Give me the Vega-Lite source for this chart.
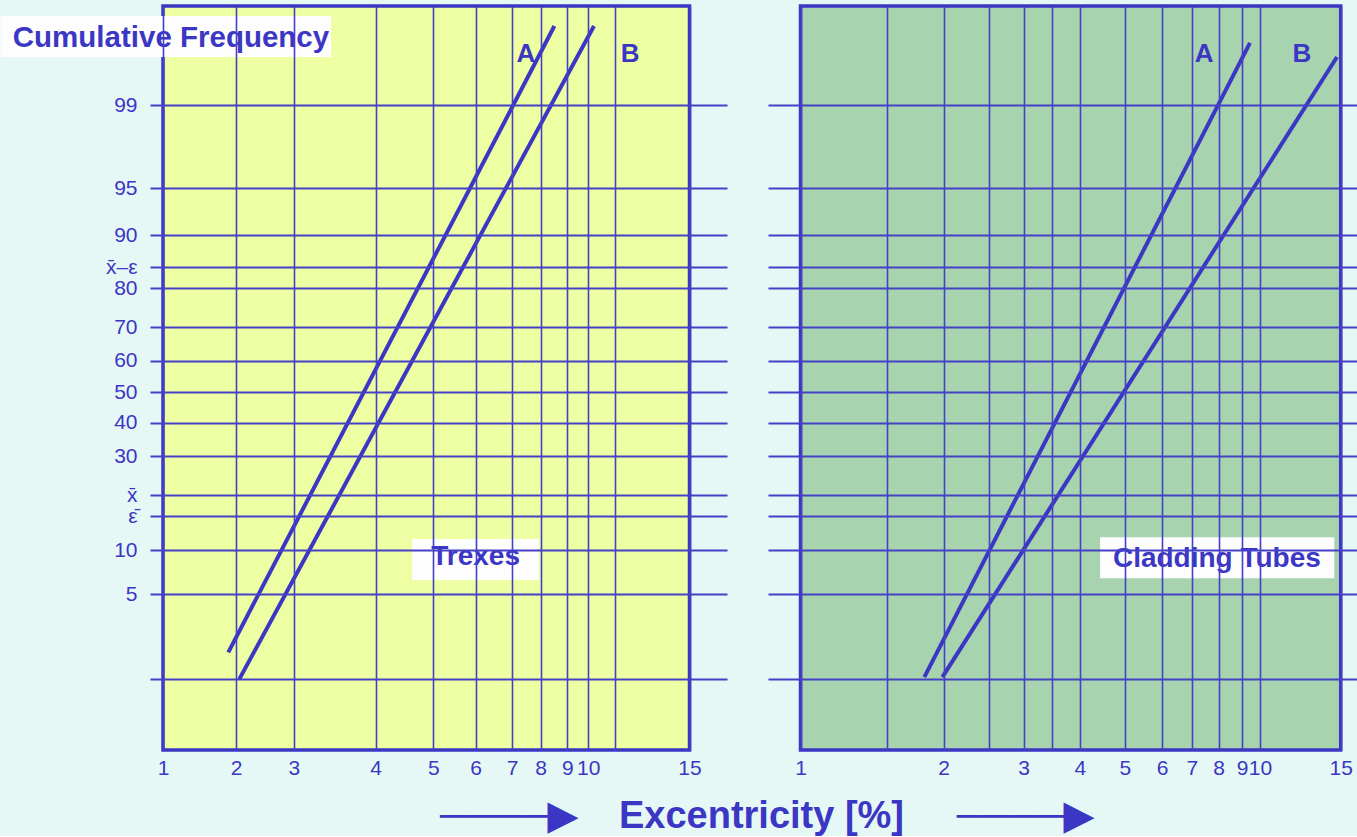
{
  "$schema": "https://vega.github.io/schema/vega-lite/v6.json",
  "background": "#e6f8f5",
  "padding": {"left": 0, "top": 4, "right": 0, "bottom": 0},
  "bounds": "flush",
  "spacing": 41,
  "config": {"view": {"stroke": null}, "font": "Liberation Sans"},
  "title": {
    "text": "\u2500\u2500\u2500\u2500\u25b6\u00a0\u00a0\u00a0\u00a0Excentricity [%]\u00a0\u00a0\u00a0\u00a0\u00a0\u2500\u2500\u2500\u2500\u25b6",
    "orient": "bottom",
    "anchor": "middle",
    "font": "Liberation Sans",
    "fontSize": 38,
    "fontWeight": "bold",
    "color": "#3b36c4",
    "dx": 88,
    "offset": 20
  },
  "datasets": {
    "frames": [
      {"panel": "Trexes", "from": 1, "to": 15},
      {"panel": "Cladding Tubes", "from": 1, "to": 15}
    ],
    "curves": [
      {"panel": "Trexes", "series": "A", "excentricity": 1.892, "cumfreq": 1.77},
      {"panel": "Trexes", "series": "A", "excentricity": 8.515, "cumfreq": 99.843},
      {"panel": "Trexes", "series": "B", "excentricity": 2.054, "cumfreq": 0.99},
      {"panel": "Trexes", "series": "B", "excentricity": 10.22, "cumfreq": 99.843},
      {"panel": "Cladding Tubes", "series": "A", "excentricity": 1.831, "cumfreq": 1.04},
      {"panel": "Cladding Tubes", "series": "A", "excentricity": 9.44, "cumfreq": 99.76},
      {"panel": "Cladding Tubes", "series": "B", "excentricity": 1.99, "cumfreq": 1.04},
      {"panel": "Cladding Tubes", "series": "B", "excentricity": 14.77, "cumfreq": 99.647}
    ],
    "notes": [
      {"panel": "Trexes", "kind": "series", "text": "A", "excentricity": 7.48, "cumfreq": 99.67},
      {"panel": "Trexes", "kind": "series", "text": "B", "excentricity": 11.83, "cumfreq": 99.67},
      {"panel": "Cladding Tubes", "kind": "series", "text": "A", "excentricity": 7.46, "cumfreq": 99.67},
      {"panel": "Cladding Tubes", "kind": "series", "text": "B", "excentricity": 12.6, "cumfreq": 99.67},
      {"panel": "Trexes", "kind": "name", "text": "Trexes", "excentricity": 6.0, "cumfreq": 9.2, "x_from": 4.63, "x_to": 7.94, "p_low": 6.59, "p_high": 11.9},
      {"panel": "Cladding Tubes", "kind": "name", "text": "Cladding Tubes", "excentricity": 7.94, "cumfreq": 9.0, "x_from": 4.45, "x_to": 14.6, "p_low": 6.78, "p_high": 12.19},
      {"panel": "Trexes", "kind": "axis", "text": "Cumulative Frequency", "excentricity": 1.109, "cumfreq": 99.8, "x_from": -1.22, "x_to": 3.454, "p_low": 99.647, "p_high": 99.879}
    ]
  },
  "hconcat": [
    {
      "width": 577,
      "height": 744,
      "layer": [
        {
          "data": {"name": "frames"},
          "transform": [{"filter": "datum.panel == 'Trexes'"}],
          "mark": {"type": "rect", "fill": "#eeffa3", "stroke": "#3b36c4", "strokeWidth": 3.5},
          "encoding": {
            "x": {
              "field": "from", "type": "quantitative",
              "scale": {"domain": [0.8224, 1, 2, 3, 4, 5, 6, 7, 8, 9, 10, 11, 15, 17], "range": [0, 13, 86.2, 143.9, 225.7, 283.4, 325.6, 362.2, 390.7, 417.3, 438.2, 464.5, 539.5, 577], "nice": false, "zero": false},
              "axis": {
                "values": [1, 2, 3, 4, 5, 6, 7, 8, 9, 10, 11, 15],
                "format": "d",
                "labelExpr": "datum.value == 11 ? '' : datum.label",
                "grid": true, "gridColor": "#4540c6", "gridWidth": 1.6,
                "domain": false, "ticks": false, "tickSize": 0,
                "labelPadding": 7, "labelFont": "Liberation Sans", "labelFontSize": 21, "labelColor": "#3b36c4",
                "labelFlush": false, "labelOverlap": false, "labelBound": false,
                "title": null, "zindex": 1,
                "encode": {"labels": {"update": {
                  "align": {"signal": "datum.value == 1 ? 'right' : datum.value == 15 ? 'left' : 'center'"},
                  "dx": {"signal": "datum.value == 3 ? -2 : datum.value == 4 ? -5 : datum.value == 5 ? -5 : datum.value == 6 ? -4 : datum.value == 10 ? 4 : 0"}
                }}}
              }
            },
            "x2": {"field": "to"}
          }
        },
        {
          "data": {"name": "curves"},
          "transform": [{"filter": "datum.panel == 'Trexes'"}],
          "mark": {"type": "line", "color": "#3b36c4", "strokeWidth": 4, "zindex": 2},
          "encoding": {
            "x": {"field": "excentricity", "type": "quantitative"},
            "y": {
              "field": "cumfreq", "type": "quantitative",
              "scale": {"domain": [0.18, 0.5, 1, 2, 3, 5, 10, 15.87, 20, 30, 40, 50, 60, 70, 80, 84.13, 90, 95, 97, 98, 99, 99.5, 99.8, 99.915], "range": [744, 702.8, 672.5, 638.6, 617.4, 588, 544, 510, 489, 450, 416.5, 386, 354.5, 321, 282, 261, 229, 182, 154.6, 133.4, 99, 69.2, 32, 0], "nice": false, "zero": false},
              "axis": {
                "values": [1, 5, 10, 15.87, 20, 30, 40, 50, 60, 70, 80, 84.13, 90, 95, 99],
                "format": "d",
                "labelExpr": "datum.value == 84.13 ? 'x\u0304\u2013\u03b5' : datum.value == 20 ? 'x\u0304' : datum.value == 15.87 ? '\u03b5\u0304' : datum.value == 1 ? '' : datum.label",
                "grid": true, "gridColor": "#4540c6", "gridWidth": 1.8,
                "domain": false, "ticks": false, "tickSize": 0,
                "labelPadding": 13, "labelFont": "Liberation Sans", "labelFontSize": 21, "labelColor": "#3b36c4",
                "labelOverlap": false, "labelBound": false, "labelFlush": false,
                "title": null, "zindex": 1,
                "encode": {"labels": {"update": {
                  "fontSize": {"signal": "datum.value == 84.13 || datum.value == 20 || datum.value == 15.87 ? 24 : 21"},
                  "dy": {"signal": "datum.value == 84.13 ? -4 : 0"},
                  "dx": {"signal": "datum.value == 20 || datum.value == 15.87 ? -6 : datum.value == 84.13 ? -4 : 0"}
                }}}
              }
            },
            "detail": {"field": "series"}
          }
        },
        {
          "data": {"name": "notes"},
          "transform": [{"filter": "datum.panel == 'Trexes' && datum.kind != 'series'"}],
          "mark": {"type": "rect", "fill": "#fdfdfd", "zindex": 3},
          "encoding": {
            "x": {"field": "x_from", "type": "quantitative"},
            "x2": {"field": "x_to"},
            "y": {"field": "p_high", "type": "quantitative"},
            "y2": {"field": "p_low"}
          }
        },
        {
          "data": {"name": "notes"},
          "transform": [{"filter": "datum.panel == 'Trexes' && datum.kind == 'series'"}],
          "mark": {"type": "text", "font": "Liberation Sans", "fontWeight": "bold", "fontSize": 26, "color": "#3b36c4", "align": "center", "baseline": "middle", "zindex": 4},
          "encoding": {
            "x": {"field": "excentricity", "type": "quantitative"},
            "y": {"field": "cumfreq", "type": "quantitative"},
            "text": {"field": "text"}
          }
        },
        {
          "data": {"name": "notes"},
          "transform": [{"filter": "datum.panel == 'Trexes' && datum.kind == 'name'"}],
          "mark": {"type": "text", "font": "Liberation Sans", "fontWeight": "bold", "fontSize": 28, "color": "#3b36c4", "align": "center", "baseline": "middle", "zindex": 4},
          "encoding": {
            "x": {"field": "excentricity", "type": "quantitative"},
            "y": {"field": "cumfreq", "type": "quantitative"},
            "text": {"field": "text"}
          }
        },
        {
          "data": {"name": "notes"},
          "transform": [{"filter": "datum.panel == 'Trexes' && datum.kind == 'axis'"}],
          "mark": {"type": "text", "font": "Liberation Sans", "fontWeight": "bold", "fontSize": 29.5, "color": "#3b36c4", "align": "center", "baseline": "middle", "zindex": 4},
          "encoding": {
            "x": {"field": "excentricity", "type": "quantitative"},
            "y": {"field": "cumfreq", "type": "quantitative"},
            "text": {"field": "text"}
          }
        }
      ]
    },
    {
      "width": 589,
      "height": 744,
      "layer": [
        {
          "data": {"name": "frames"},
          "transform": [{"filter": "datum.panel == 'Cladding Tubes'"}],
          "mark": {"type": "rect", "fill": "#a7d4af", "stroke": "#3b36c4", "strokeWidth": 3.5},
          "encoding": {
            "x": {
              "field": "from", "type": "quantitative",
              "scale": {"domain": [0.8117, 1, 1.5, 2, 2.5, 3, 3.5, 4, 5, 6, 7, 8, 9, 10, 15, 16.01], "range": [0, 32.5, 118.8, 175.5, 220.9, 255.5, 284.1, 311.9, 356.8, 394.1, 423.8, 450.5, 474.1, 492, 572.7, 589], "nice": false, "zero": false},
              "axis": {
                "values": [1, 1.5, 2, 2.5, 3, 3.5, 4, 5, 6, 7, 8, 9, 10, 15],
                "format": "d",
                "labelExpr": "datum.value % 1 != 0 ? '' : datum.label",
                "grid": true, "gridColor": "#4540c6", "gridWidth": 1.6,
                "domain": false, "ticks": false, "tickSize": 0,
                "labelPadding": 7, "labelFont": "Liberation Sans", "labelFontSize": 21, "labelColor": "#3b36c4",
                "labelFlush": false, "labelOverlap": false, "labelBound": false,
                "title": null, "zindex": 1,
                "encode": {"labels": {"update": {
                  "dx": {"signal": "datum.value == 1 ? -2 : datum.value == 3 ? -2 : 0"}
                }}}
              }
            },
            "x2": {"field": "to"}
          }
        },
        {
          "data": {"name": "curves"},
          "transform": [{"filter": "datum.panel == 'Cladding Tubes'"}],
          "mark": {"type": "line", "color": "#3b36c4", "strokeWidth": 4, "zindex": 2},
          "encoding": {
            "x": {"field": "excentricity", "type": "quantitative"},
            "y": {
              "field": "cumfreq", "type": "quantitative",
              "scale": {"domain": [0.18, 0.5, 1, 2, 3, 5, 10, 15.87, 20, 30, 40, 50, 60, 70, 80, 84.13, 90, 95, 97, 98, 99, 99.5, 99.8, 99.915], "range": [744, 702.8, 672.5, 638.6, 617.4, 588, 544, 510, 489, 450, 416.5, 386, 354.5, 321, 282, 261, 229, 182, 154.6, 133.4, 99, 69.2, 32, 0], "nice": false, "zero": false},
              "axis": {
                "values": [1, 5, 10, 15.87, 20, 30, 40, 50, 60, 70, 80, 84.13, 90, 95, 99],
                "grid": true, "gridColor": "#4540c6", "gridWidth": 1.8,
                "domain": false, "ticks": false, "labels": false,
                "title": null, "zindex": 1
              }
            },
            "detail": {"field": "series"}
          }
        },
        {
          "data": {"name": "notes"},
          "transform": [{"filter": "datum.panel == 'Cladding Tubes' && datum.kind != 'series'"}],
          "mark": {"type": "rect", "fill": "#fdfdfd", "zindex": 3},
          "encoding": {
            "x": {"field": "x_from", "type": "quantitative"},
            "x2": {"field": "x_to"},
            "y": {"field": "p_high", "type": "quantitative"},
            "y2": {"field": "p_low"}
          }
        },
        {
          "data": {"name": "notes"},
          "transform": [{"filter": "datum.panel == 'Cladding Tubes' && datum.kind == 'series'"}],
          "mark": {"type": "text", "font": "Liberation Sans", "fontWeight": "bold", "fontSize": 26, "color": "#3b36c4", "align": "center", "baseline": "middle", "zindex": 4},
          "encoding": {
            "x": {"field": "excentricity", "type": "quantitative"},
            "y": {"field": "cumfreq", "type": "quantitative"},
            "text": {"field": "text"}
          }
        },
        {
          "data": {"name": "notes"},
          "transform": [{"filter": "datum.panel == 'Cladding Tubes' && datum.kind == 'name'"}],
          "mark": {"type": "text", "font": "Liberation Sans", "fontWeight": "bold", "fontSize": 28, "color": "#3b36c4", "align": "center", "baseline": "middle", "zindex": 4},
          "encoding": {
            "x": {"field": "excentricity", "type": "quantitative"},
            "y": {"field": "cumfreq", "type": "quantitative"},
            "text": {"field": "text"}
          }
        }
      ]
    }
  ]
}
